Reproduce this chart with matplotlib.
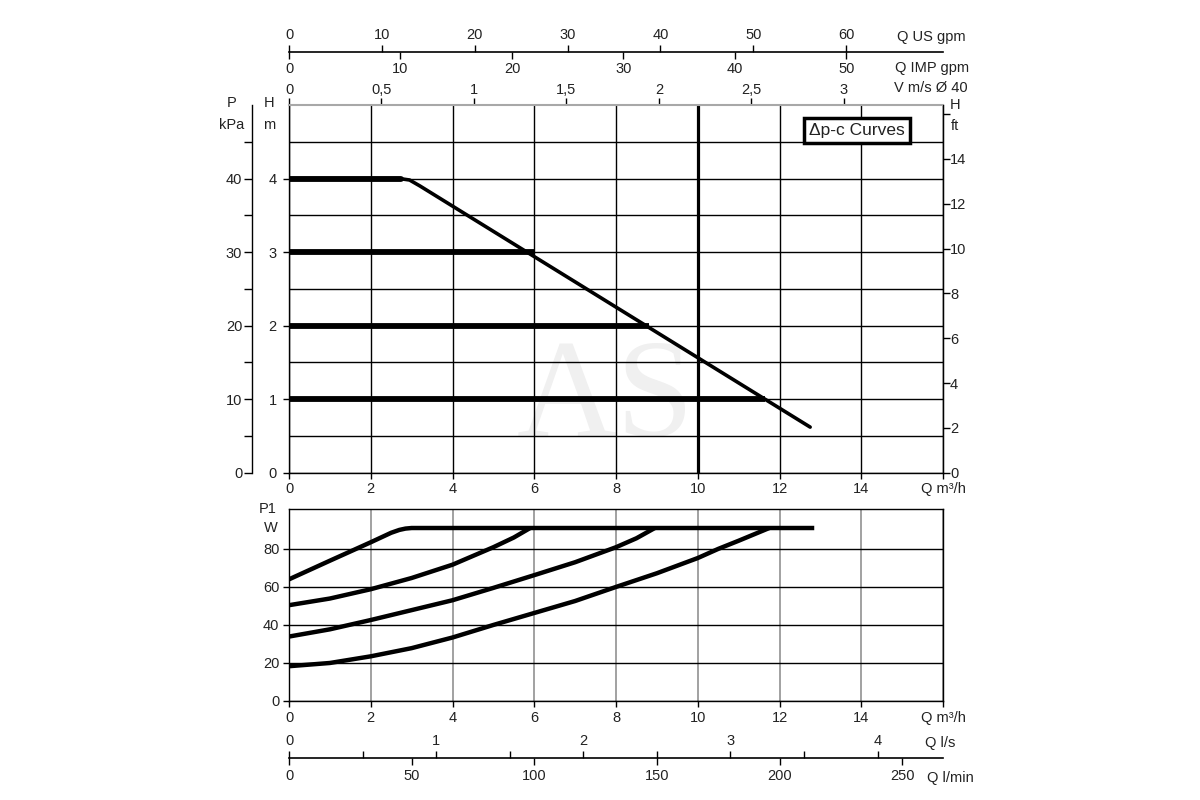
import numpy as np
import matplotlib.pyplot as plt
from matplotlib import font_manager

# unit conversions from Q in m3/h
US_GPM = 4.4029
IMP_GPM = 3.6662
VEL_D40 = 1 / (3600 * np.pi * 0.02 ** 2)
M_TO_FT = 3.2808
L_MIN = 1000 / 60

# H-Q (delta p-c) curves
hmax_q = [0, 2.7, 2.95, 3.2, 12.75]
hmax_h = [4.0, 4.0, 3.98, 3.9, 0.62]
hset_levels = [3, 2, 1]
hset_end_q = [6.0, 8.8, 11.65]

# P1 curves
p1max_q = [0, 1, 2, 2.5, 2.7, 2.85, 3.0, 12.85]
p1max_w = [64, 73.8, 83.5, 88.5, 90.0, 90.7, 91, 91]
p1_3m_q = [0, 1, 2, 3, 4, 5, 5.5, 5.9]
p1_3m_w = [50.4, 53.9, 58.8, 64.7, 71.7, 80.9, 86, 91]
p1_2m_q = [0, 1, 2, 3, 4, 5, 6, 7, 8, 8.5, 8.95]
p1_2m_w = [33.9, 37.7, 42.6, 47.8, 53, 59.5, 66.2, 73, 80.9, 85.6, 91]
p1_1m_q = [0, 1, 2, 3, 4, 5, 6, 7, 8, 9, 10, 10.5, 11, 11.75]
p1_1m_w = [18.3, 20, 23.5, 27.8, 33.4, 40, 46.3, 52.6, 60, 67.2, 75.2, 80, 84.3, 91]

q_ticks = [0, 2, 4, 6, 8, 10, 12, 14, 16]
q_labels = ['0', '2', '4', '6', '8', '10', '12', '14', 'Q m³/h']
v_ticks = [0, 0.5, 1, 1.5, 2, 2.5, 3]
v_labels = ['0', '0,5', '1', '1,5', '2', '2,5', '3']

names = {f.name for f in font_manager.fontManager.ttflist}
narrow = 'Liberation Sans Narrow' if 'Liberation Sans Narrow' in names else 'Liberation Sans'
plt.rcParams['font.family'] = [narrow, 'DejaVu Sans']
plt.rcParams['font.size'] = 10.5
TXT = '#222222'
plt.rcParams['text.color'] = TXT
plt.rcParams['xtick.color'] = 'black'
plt.rcParams['ytick.color'] = 'black'
plt.rcParams['xtick.labelcolor'] = TXT
plt.rcParams['ytick.labelcolor'] = TXT


def fx(px):
    return px / 1200


def fy(py):
    return 1 - py / 800


fig = plt.figure(figsize=(12, 8), dpi=100)
X0, X1 = 289, 943
W = fx(X1) - fx(X0)

# ---- main H chart ----
ax = fig.add_axes([fx(X0), fy(472.7), W, (472.7 - 105) / 800])
ax.set_xlim(0, 16)
ax.set_ylim(0, 5)
ax.set_xticks(q_ticks)
ax.set_xticklabels(q_labels)
ax.set_yticks([0, 1, 2, 3, 4])
ax.set_yticks(np.arange(0.5, 5, 0.5), minor=True)
ax.tick_params(axis='both', which='major', direction='out', length=4, width=1, pad=3)
ax.tick_params(axis='y', which='minor', length=0)
ax.tick_params(axis='y', pad=5)
ax.grid(True, which='both', color='black', lw=1.0, zorder=1)
for s in ['left', 'right', 'bottom']:
    ax.spines[s].set_linewidth(1.0)
ax.spines['top'].set_color('#a8a8a8')
ax.spines['top'].set_linewidth(1.5)
ax.axvline(10, color='black', lw=2.3, zorder=2)

ax.text(7.75, 0.95, 'AS', fontsize=100, family='Liberation Serif', color='#f0f0f0',
        ha='center', va='center', zorder=0)

ax.plot(hmax_q, hmax_h, color='black', lw=2.6, solid_joinstyle='round',
        solid_capstyle='round', zorder=4)
for lev, qend in zip(hset_levels, hset_end_q):
    ax.plot([0, qend], [lev, lev], color='black', lw=4.2, solid_capstyle='butt', zorder=3)
ax.plot([0, 2.75], [4, 4], color='black', lw=4.2, solid_capstyle='round', zorder=3)

ax.text(13.9, 4.65, 'Δp-c Curves', fontsize=12.5, ha='center', va='center', color=TXT,
        bbox=dict(boxstyle='square,pad=0.3', fc='white', ec='black', lw=2.5), zorder=6)

# top velocity scale
secv = ax.secondary_xaxis('top', functions=(lambda q: q * VEL_D40, lambda v: v / VEL_D40))
secv.set_xticks(v_ticks)
secv.set_xticklabels(v_labels)
secv.tick_params(direction='out', length=5, width=1, pad=1)
secv.spines['top'].set_visible(False)

# kPa scale
axk = ax.twinx()
axk.yaxis.tick_left()
axk.set_ylim(0, 50)
axk.set_yticks([0, 10, 20, 30, 40])
axk.set_yticks(np.arange(5, 50, 10), minor=True)
axk.tick_params(which='both', direction='out', length=6, width=1, pad=1)
for s in ['right', 'top', 'bottom']:
    axk.spines[s].set_visible(False)
axk.spines['left'].set_position(('outward', 26.6))
axk.spines['left'].set_linewidth(1.0)

# ft scale
axf = ax.twinx()
axf.set_ylim(0, 5 * M_TO_FT)
axf.set_yticks(range(0, 17, 2))
axf.set_yticklabels([str(v) for v in range(0, 15, 2)] + [''])
axf.tick_params(direction='out', length=5, width=1, pad=0)
for s in ['left', 'top', 'bottom']:
    axf.spines[s].set_visible(False)

fig.text(fx(232), fy(103), 'P', ha='center', va='center')
fig.text(fx(232), fy(125), 'kPa', ha='center', va='center')
fig.text(fx(269), fy(103), 'H', ha='center', va='center')
fig.text(fx(269), fy(125), 'm', ha='center', va='center')
fig.text(fx(955), fy(105), 'H', ha='center', va='center')
fig.text(fx(955), fy(126), 'ft', ha='center', va='center')

# top flow scales
axg = fig.add_axes([fx(X0), fy(52), W, 0.0001])
axg.set_xlim(0, 16 * US_GPM)
axg.xaxis.set_ticks_position('top')
axg.set_xticks(range(0, 61, 10))
axg.tick_params(direction='out', length=5, width=1, pad=2)
axg.set_yticks([])
for s in ['left', 'right', 'bottom']:
    axg.spines[s].set_visible(False)
axg.spines['top'].set_linewidth(1.2)
seci = axg.secondary_xaxis('bottom', functions=(lambda g: g * IMP_GPM / US_GPM,
                                                lambda i: i * US_GPM / IMP_GPM))
seci.set_xticks(range(0, 51, 10))
seci.tick_params(direction='out', length=5, width=1, pad=2)
seci.spines['bottom'].set_visible(False)
fig.text(fx(931), fy(37), 'Q US gpm', ha='center', va='center')
fig.text(fx(932), fy(68), 'Q IMP gpm', ha='center', va='center')
fig.text(fx(931), fy(88), 'V m/s Ø 40', ha='center', va='center')

# ---- P1 chart ----
axp = fig.add_axes([fx(X0), fy(701), W, (701 - 509) / 800])
axp.set_xlim(0, 16)
axp.set_ylim(0, 101)
axp.set_xticks(q_ticks)
axp.set_xticklabels(q_labels)
axp.set_yticks([0, 20, 40, 60, 80])
axp.tick_params(direction='out', length=4, width=1, pad=3)
axp.grid(True, axis='y', color='black', lw=1.0)
axp.grid(True, axis='x', color='#9a9a9a', lw=1.3)
for s in axp.spines.values():
    s.set_linewidth(1.0)
for q, w in [(p1max_q, p1max_w), (p1_3m_q, p1_3m_w), (p1_2m_q, p1_2m_w), (p1_1m_q, p1_1m_w)]:
    axp.plot(q, w, color='black', lw=3.2, solid_joinstyle='round',
             solid_capstyle='butt', zorder=3)
fig.text(fx(268), fy(509), 'P1', ha='center', va='center')
fig.text(fx(271), fy(528), 'W', ha='center', va='center')

# bottom flow scales
axb = fig.add_axes([fx(X0), fy(758), W, 0.0001])
axb.set_xlim(0, 16 * L_MIN)
axb.set_xticks(range(0, 251, 50))
axb.tick_params(direction='out', length=5, width=1, pad=3)
axb.set_yticks([])
for s in ['left', 'right', 'top']:
    axb.spines[s].set_visible(False)
axb.spines['bottom'].set_linewidth(1.2)
secl = axb.secondary_xaxis('top', functions=(lambda l: l / 60, lambda s: s * 60))
secl.set_xticks([0, 1, 2, 3, 4])
secl.set_xticks(np.arange(0.5, 4.5, 1), minor=True)
secl.tick_params(which='both', direction='out', length=5, width=1, pad=2)
secl.spines['top'].set_visible(False)
fig.text(fx(925), fy(743), 'Q l/s', ha='left', va='center')
fig.text(fx(950), fy(778), 'Q l/min', ha='center', va='center')

fig.savefig('out.png', dpi=100)
